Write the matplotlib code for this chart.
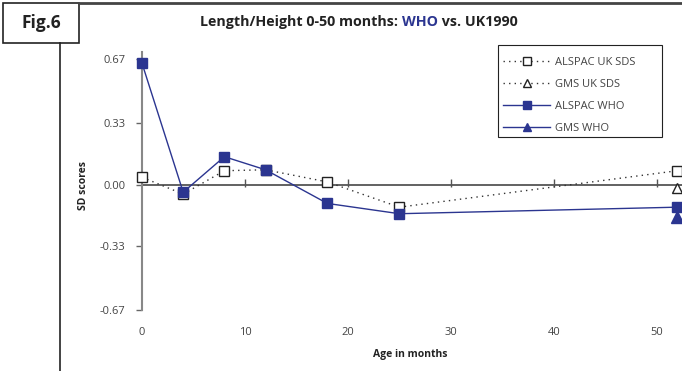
import matplotlib
matplotlib.use('Agg')
from matplotlib import pyplot as plt

plt.rcParams['font.family'] = ['Open Sans', 'DejaVu Sans']

# Data
alspac_age = [0, 4, 8, 12, 18, 25, 52]
alspac_uk = [0.04, -0.05, 0.075, 0.08, 0.015, -0.12, 0.075]
alspac_who = [0.65, -0.04, 0.15, 0.08, -0.10, -0.155, -0.12]
gms_age = [52]
gms_uk = [-0.02]
gms_who = [-0.17]

yticks = [-0.67, -0.33, 0.00, 0.33, 0.67]
xticks = [0, 10, 20, 30, 40, 50]

blue = '#2B3590'
grey = '#444444'

fig = plt.figure(figsize=(6.82, 3.71), dpi=100)
ax = fig.add_axes([142 / 682, 61 / 371, 556 / 682, 258 / 371])

# Series
ax.plot(alspac_age, alspac_uk, ls=(0, (1, 3)), lw=1, c='#333333', marker='s',
        ms=7.5, mfc='white', mec='#222222', mew=1, label='ALSPAC UK SDS', clip_on=False, zorder=3)
ax.plot(gms_age, gms_uk, ls=(0, (1, 3)), lw=1, c='#333333', marker='^',
        ms=7.5, mfc='white', mec='#222222', mew=1, label='GMS UK SDS', clip_on=False, zorder=3)
ax.plot(alspac_age, alspac_who, ls='-', lw=1, c=blue, marker='s',
        ms=7.5, mfc=blue, mec=blue, label='ALSPAC WHO', clip_on=False, zorder=4)
ax.plot(gms_age, gms_who, ls='-', lw=1, c=blue, marker='^',
        ms=8.5, mfc=blue, mec=blue, label='GMS WHO', clip_on=False, zorder=4)

# Zero line with its own small ticks
ax.axhline(0, color='#555555', lw=1.3, zorder=2)
ax.vlines(xticks[1:], -0.012, 0.03, color='#555555', lw=1, zorder=2)

ax.set_xlim(0, 54)
ax.set_ylim(-0.67, 0.71)
ax.set_yticks(yticks)
ax.set_yticklabels([f'{v:.2f}' for v in yticks])
ax.set_xticks(xticks)

for s in ['top', 'right', 'bottom']:
    ax.spines[s].set_visible(False)
ax.spines['left'].set_color('#888888')
ax.spines['left'].set_linewidth(1.5)

ax.tick_params(axis='y', direction='out', length=4, width=1, color='#666666',
               labelsize=8, labelcolor=grey, pad=8)
ax.tick_params(axis='x', length=0, labelsize=8, labelcolor=grey, pad=12)

# Axis labels
fig.text(84 / 682, 1 - 186 / 371, 'SD scores', rotation=90, ha='center', va='center',
         fontsize=7.5, fontweight='bold', color='#222222')
fig.text(410 / 682, 1 - 355 / 371, 'Age in months', ha='center', va='center',
         fontsize=7.5, fontweight='bold', color='#222222')

# Title
ty = 1 - 22 / 371
t1 = fig.text(200 / 682, ty, 'Length/Height 0-50 months: ', ha='left', va='center',
              fontsize=10.3, fontweight='bold', color='#222222')
fig.canvas.draw()
renderer = fig.canvas.get_renderer()
bb = t1.get_window_extent(renderer=renderer)
t2 = fig.text(bb.x1 / fig.bbox.width, ty, 'WHO', ha='left', va='center',
              fontsize=10.3, fontweight='bold', color=blue)
bb2 = t2.get_window_extent(renderer=renderer)
fig.text(bb2.x1 / fig.bbox.width, ty, ' vs. UK1990', ha='left', va='center',
         fontsize=10.3, fontweight='bold', color='#222222')

# Legend (entries only, frame drawn separately to match the box)
leg = fig.legend(loc='upper left', bbox_to_anchor=(496 / 682, 1 - 50 / 371),
                 fontsize=8, frameon=False, handlelength=4.3, markerscale=0.75,
                 labelspacing=1.0, borderpad=0.6, handletextpad=0.4, borderaxespad=0)
for txt in leg.get_texts():
    txt.set_color(grey)
fig.patches.append(plt.Rectangle((498 / 682, 1 - 137 / 371), 164 / 682, 92 / 371,
                                 transform=fig.transFigure, fill=False, ec='#222222', lw=0.8))

# Frame: "Fig.6" box, left rule and top rule
fig.patches.append(plt.Rectangle((3 / 682, 1 - 43 / 371), 76 / 682, 40 / 371,
                                 transform=fig.transFigure, fill=False, ec='#222222', lw=1.2))
fig.text(41 / 682, 1 - 23 / 371, 'Fig.6', ha='center', va='center',
         fontsize=12.5, fontweight='bold', color='#222222')
fig.lines.append(plt.Line2D([60 / 682, 60 / 682], [0, 1 - 43 / 371],
                            transform=fig.transFigure, color='#222222', lw=1.2))
fig.lines.append(plt.Line2D([79 / 682, 1], [1 - 2.5 / 371, 1 - 2.5 / 371],
                            transform=fig.transFigure, color='#444444', lw=2))

fig.savefig('out.png', dpi=100)
